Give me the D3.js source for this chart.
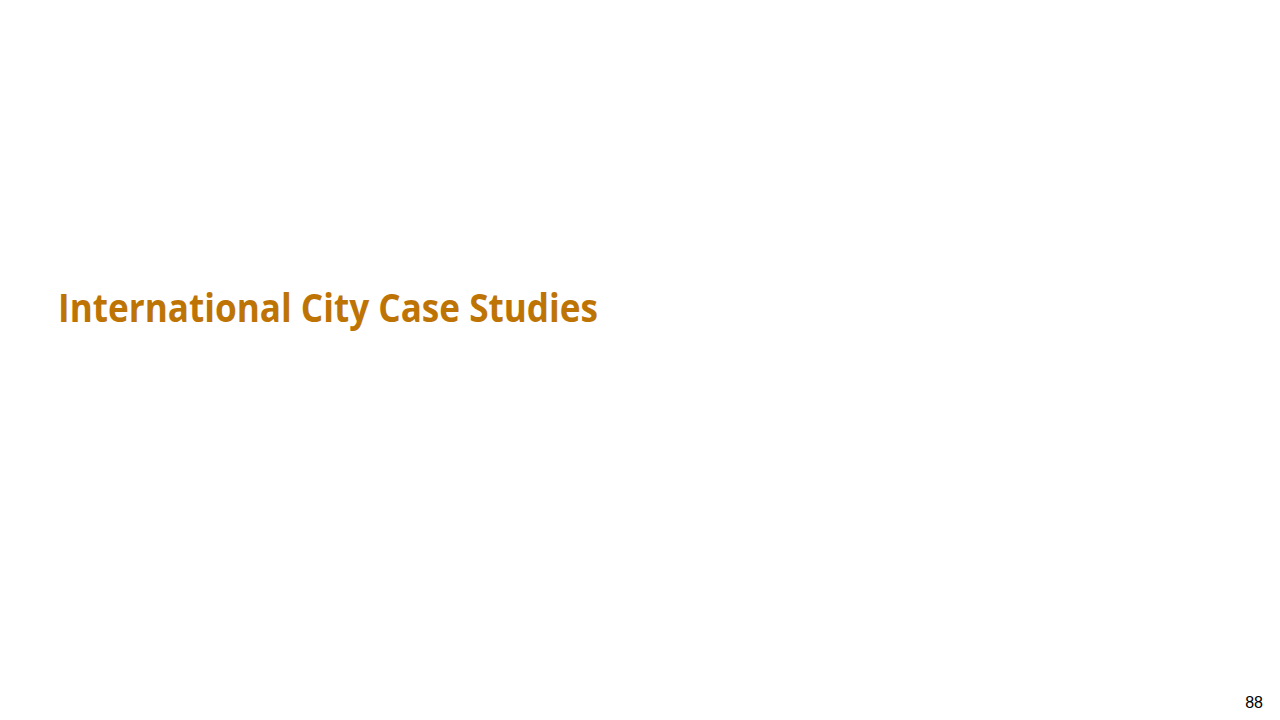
<!DOCTYPE html>
<html>
<head>
<meta charset="utf-8">
<script src="https://cdn.jsdelivr.net/npm/d3@7"></script>
<style>
  body { margin: 0; background: #fff; }
</style>
</head>
<body>
<div id="slide"></div>
<script>
var titleText = ["International City Case Studies"];
var pageNumber = ["88"];

var svg = d3.select("#slide")
  .append("svg")
  .attr("width", 1280)
  .attr("height", 720);

svg.append("rect")
  .attr("width", 1280)
  .attr("height", 720)
  .style("fill", "#ffffff");

// section title
svg.selectAll("text.title")
  .data(titleText)
  .enter()
  .append("text")
  .attr("class", "title")
  .attr("x", 58)
  .attr("y", 322)
  .attr("textLength", 540)
  .attr("lengthAdjust", "spacingAndGlyphs")
  .style("font-family", "'Open Sans', 'Noto Sans', sans-serif")
  .style("font-weight", "bold")
  .style("font-size", "39px")
  .style("fill", "#BE7405")
  .text(function(d){ return d; });

// page number
svg.selectAll("text.page")
  .data(pageNumber)
  .enter()
  .append("text")
  .attr("class", "page")
  .attr("x", 1263)
  .attr("y", 708)
  .attr("text-anchor", "end")
  .style("font-family", "'Liberation Sans', Arial, sans-serif")
  .style("font-size", "16px")
  .style("fill", "#000")
  .text(function(d){ return d; });
</script>
</body>
</html>
